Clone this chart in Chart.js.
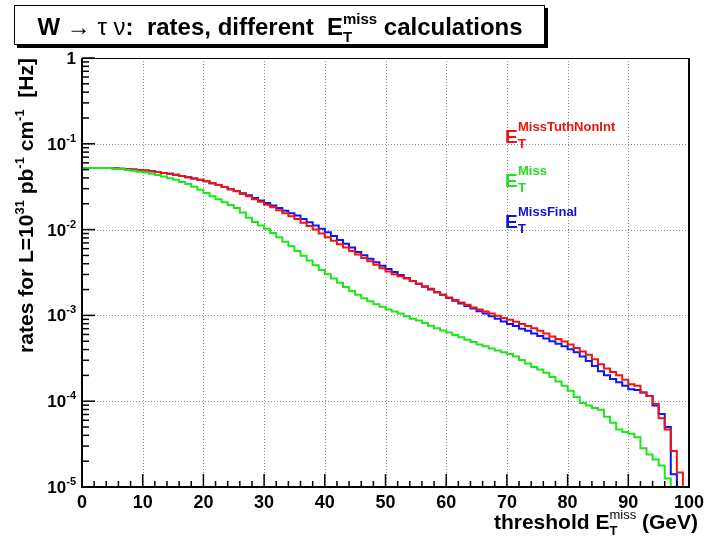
<!DOCTYPE html>
<html>
<head>
<meta charset="utf-8">
<script src="https://cdn.jsdelivr.net/npm/chart.js@4/dist/chart.umd.min.js"></script>
<style>
html, body { margin: 0; padding: 0; background: #ffffff; }
#wrap { position: relative; width: 704px; height: 538px; }
canvas { display: block; }
</style>
</head>
<body>
<div id="wrap"><canvas id="c" width="704" height="538"></canvas></div>
<script>
// ---------------- data ----------------
// lower edges of the 1 GeV threshold bins
const binEdges = [
  0,1,2,3,4,5,6,7,8,9,10,11,12,13,14,15,16,17,18,19,
  20,21,22,23,24,25,26,27,28,29,30,31,32,33,34,35,36,37,38,39,
  40,41,42,43,44,45,46,47,48,49,50,51,52,53,54,55,56,57,58,59,
  60,61,62,63,64,65,66,67,68,69,70,71,72,73,74,75,76,77,78,79,
  80,81,82,83,84,85,86,87,88,89,90,91,92,93,94,95,96,97,98,99
];
const seriesNames = ['MissTuthNonInt', 'Miss', 'MissFinal'];

// E_T^MissTuthNonInt (red)
const rateTruthNonInt = [
  0.0521,0.0521,0.0521,0.0521,0.0521,0.0519,0.0513,0.0507,0.0501,0.0495,
  0.0490,0.0479,0.0468,0.0457,0.0447,0.0437,0.0422,0.0407,0.0394,0.0380,
  0.0365,0.0347,0.0331,0.0313,0.0295,0.0279,0.0260,0.0245,0.0226,0.0211,
  0.0195,0.0182,0.0168,0.0155,0.0143,0.0133,0.0120,0.0110,0.0100,0.00902,
  0.00813,0.00741,0.00676,0.00617,0.00562,0.00513,0.00468,0.00427,0.00389,0.00355,
  0.00324,0.00302,0.00285,0.00269,0.00251,0.00234,0.00219,0.00204,0.00186,0.00174,
  0.00162,0.00151,0.00141,0.00133,0.00124,0.00117,0.00111,0.00105,0.000989,0.000933,
  0.000891,0.000841,0.000794,0.000750,0.000708,0.000661,0.000617,0.000569,0.000531,0.000495,
  0.000457,0.000417,0.000380,0.000347,0.000309,0.000269,0.000240,0.000219,0.000200,0.000178,
  0.000158,0.000151,0.000126,0.000115,0.0000933,0.0000631,0.0000468,0.0000263,0.0000148,0
];
// E_T^Miss (green)
const rateMiss = [
  0.0521,0.0521,0.0521,0.0521,0.0521,0.0513,0.0507,0.0495,0.0484,0.0473,
  0.0463,0.0447,0.0432,0.0417,0.0398,0.0380,0.0359,0.0339,0.0316,0.0292,
  0.0267,0.0245,0.0226,0.0209,0.0193,0.0178,0.0158,0.0137,0.0123,0.0112,
  0.0102,0.00912,0.00813,0.00724,0.00638,0.00562,0.00496,0.00437,0.00385,0.00339,
  0.00302,0.00269,0.00240,0.00214,0.00193,0.00174,0.00158,0.00146,0.00135,0.00126,
  0.00117,0.00111,0.00105,0.000977,0.000912,0.000871,0.000813,0.000759,0.000708,0.000668,
  0.000631,0.000589,0.000556,0.000519,0.000490,0.000457,0.000437,0.000412,0.000389,0.000372,
  0.000355,0.000331,0.000302,0.000275,0.000251,0.000234,0.000214,0.000191,0.000170,0.000151,
  0.000132,0.000112,0.0000955,0.0000891,0.0000832,0.0000794,0.0000661,0.0000562,0.0000468,0.0000437,
  0.0000417,0.0000380,0.0000282,0.0000240,0.0000209,0.0000178,0.0000126,0,0,0
];
// E_T^MissFinal (blue)
const rateFinal = [
  0.0521,0.0521,0.0521,0.0521,0.0521,0.0519,0.0513,0.0507,0.0501,0.0495,
  0.0490,0.0479,0.0468,0.0457,0.0447,0.0437,0.0422,0.0407,0.0394,0.0380,
  0.0365,0.0347,0.0331,0.0313,0.0295,0.0282,0.0266,0.0251,0.0234,0.0219,
  0.0204,0.0191,0.0178,0.0166,0.0155,0.0146,0.0133,0.0122,0.0112,0.0102,
  0.00933,0.00841,0.00759,0.00684,0.00617,0.00550,0.00501,0.00457,0.00417,0.00380,
  0.00347,0.00320,0.00295,0.00272,0.00251,0.00234,0.00216,0.00200,0.00186,0.00174,
  0.00160,0.00148,0.00138,0.00129,0.00120,0.00112,0.00105,0.000977,0.000912,0.000851,
  0.000794,0.000750,0.000700,0.000661,0.000617,0.000575,0.000537,0.000501,0.000468,0.000437,
  0.000403,0.000372,0.000331,0.000295,0.000257,0.000224,0.000200,0.000182,0.000166,0.000151,
  0.000138,0.000135,0.000126,0.000115,0.0000891,0.0000708,0.0000501,0.0000141,0,0
];

// axis ticks / labels
const xMajorTicks = [0,10,20,30,40,50,60,70,80,90,100];
const xTickLabels = ['0','10','20','30','40','50','60','70','80','90','100'];
const xMinorStep = 2;
const yDecadeTicks = [1e-5,1e-4,1e-3,1e-2,1e-1,1];
const yTickBase = ['10','10','10','10','10','1'];
const yTickExp  = ['-5','-4','-3','-2','-1',''];
const Y_MIN = 1e-5, Y_MAX = 1, X_MIN = 0, X_MAX = 100;

// ---------------- helpers ----------------
const FONT = '"Liberation Sans", Arial, Helvetica, sans-serif';
function f(size, bold) { return (bold ? 'bold ' : '') + size + 'px ' + FONT; }

// runs: {t, font, dy, noAdv}
function runsWidth(ctx, runs) {
  let w = 0;
  for (const r of runs) { ctx.font = r.font; r.w = ctx.measureText(r.t).width; if (!r.noAdv) w += r.w; }
  return w;
}
function drawRuns(ctx, x, y, runs, align, color) {
  const total = runsWidth(ctx, runs);
  let cx = x;
  if (align === 'right') cx = x - total;
  else if (align === 'center') cx = x - total / 2;
  ctx.textBaseline = 'alphabetic';
  ctx.textAlign = 'left';
  for (const r of runs) {
    ctx.font = r.font;
    ctx.fillStyle = r.color || color || '#000';
    ctx.fillText(r.t, cx, y + (r.dy || 0));
    if (!r.noAdv) cx += r.w;
  }
}

function histPoints(vals) {
  const pts = vals.map((v, i) => ({ x: binEdges[i], y: v > 0 ? v : Y_MIN }));
  pts.push({ x: X_MAX, y: pts[pts.length - 1].y });
  return pts;
}

// ---------------- decorations plugin ----------------
const rootStyle = {
  id: 'rootStyle',
  beforeDatasetsDraw(chart) {
    const { ctx, chartArea: a, scales: { x, y } } = chart;
    ctx.save();
    ctx.strokeStyle = '#8c8c8c';
    ctx.lineWidth = 1;
    ctx.setLineDash([1, 2]);
    for (const v of xMajorTicks) {
      if (v === X_MIN || v === X_MAX) continue;
      const px = Math.round(x.getPixelForValue(v)) + 0.5;
      ctx.beginPath(); ctx.moveTo(px, a.top); ctx.lineTo(px, a.bottom); ctx.stroke();
    }
    for (const v of yDecadeTicks) {
      if (v === Y_MIN || v === Y_MAX) continue;
      const py = Math.round(y.getPixelForValue(v)) + 0.5;
      ctx.beginPath(); ctx.moveTo(a.left, py); ctx.lineTo(a.right, py); ctx.stroke();
    }
    ctx.restore();
  },
  afterDatasetsDraw(chart) {
    const { ctx, chartArea: a, scales: { x, y } } = chart;
    ctx.save();
    ctx.setLineDash([]);
    ctx.strokeStyle = '#000';
    // frame
    ctx.lineWidth = 1;
    ctx.beginPath(); ctx.moveTo(a.left, a.top + 0.5); ctx.lineTo(a.right, a.top + 0.5); ctx.stroke();
    ctx.lineWidth = 2;
    ctx.beginPath();
    ctx.moveTo(a.left, a.top); ctx.lineTo(a.left, a.bottom); ctx.lineTo(a.right, a.bottom); ctx.lineTo(a.right, a.top);
    ctx.stroke();
    // y ticks
    ctx.lineWidth = 1.5;
    for (let d = 0; d < yDecadeTicks.length; d++) {
      const dec = yDecadeTicks[d];
      const py = y.getPixelForValue(dec);
      ctx.beginPath(); ctx.moveTo(a.left, py); ctx.lineTo(a.left + 13, py); ctx.stroke();
      if (d < yDecadeTicks.length - 1) {
        for (let k = 2; k <= 9; k++) {
          const pm = y.getPixelForValue(dec * k);
          ctx.beginPath(); ctx.moveTo(a.left, pm); ctx.lineTo(a.left + 7, pm); ctx.stroke();
        }
      }
    }
    // x ticks
    for (let v = X_MIN; v <= X_MAX; v += xMinorStep) {
      const px = x.getPixelForValue(v);
      const len = xMajorTicks.includes(v) ? 13 : 6;
      ctx.beginPath(); ctx.moveTo(px, a.bottom); ctx.lineTo(px, a.bottom - len); ctx.stroke();
    }
    // x tick labels
    ctx.fillStyle = '#000';
    xMajorTicks.forEach((v, i) => {
      drawRuns(ctx, x.getPixelForValue(v), a.bottom + 21, [{ t: xTickLabels[i], font: f(18, true) }], 'center');
    });
    // y tick labels
    yDecadeTicks.forEach((v, i) => {
      const py = y.getPixelForValue(v);
      const runs = [{ t: yTickBase[i], font: f(17, true) }];
      if (yTickExp[i]) runs.push({ t: yTickExp[i], font: f(11, true), dy: -8 });
      drawRuns(ctx, a.left - 6, py + 6, runs, 'right');
    });
    // x axis title
    drawRuns(ctx, 698, 529, [
      { t: 'threshold E', font: f(21, true) },
      { t: 'T', font: f(13, true), dy: 6, noAdv: true },
      { t: 'miss', font: f(13, false), dy: -10 },
      { t: ' (GeV)', font: f(21, true) }
    ], 'right');
    // y axis title (rotated)
    ctx.save();
    ctx.translate(33, a.top);
    ctx.rotate(-Math.PI / 2);
    drawRuns(ctx, 0, 0, [
      { t: 'rates for L=10', font: f(21, true) },
      { t: '31', font: f(13, true), dy: -9 },
      { t: ' pb', font: f(21, true) },
      { t: '-1', font: f(13, true), dy: -9 },
      { t: ' cm', font: f(21, true) },
      { t: '-1', font: f(13, true), dy: -9 },
      { t: '  [Hz]', font: f(21, true) }
    ], 'right');
    ctx.restore();

    // title box
    ctx.fillStyle = '#000';
    ctx.fillRect(17, 45, 531, 3);
    ctx.fillRect(545, 8, 3, 40);
    ctx.fillStyle = '#fff';
    ctx.fillRect(15, 6, 529, 38);
    ctx.strokeStyle = '#000';
    ctx.lineWidth = 1;
    ctx.strokeRect(14.5, 5.5, 530, 39);
    drawRuns(ctx, 280, 35, [
      { t: 'W ', font: f(24, true) },
      { t: '\u2192', font: f(24, false) },
      { t: ' \u03c4 \u03bd', font: f(24, false) },
      { t: ':  rates, different  E', font: f(24, true) },
      { t: 'T', font: f(15, true), dy: 7, noAdv: true },
      { t: 'miss', font: f(15, true), dy: -11 },
      { t: ' calculations', font: f(24, true) }
    ], 'center', '#000');

    // legend
    const legendColors = ['#ee1111', '#22dd22', '#1111dd'];
    const legendBase = [143, 187, 228];
    seriesNames.forEach((name, i) => {
      const yb = legendBase[i];
      const c = legendColors[i];
      ctx.font = f(19, true);
      ctx.fillStyle = c;
      ctx.textAlign = 'left';
      ctx.fillText('E', 505, yb);
      ctx.font = f(13, true);
      ctx.fillText('T', 518, yb + 5);
      ctx.fillText(name, 518, yb - 12);
    });
    ctx.restore();
  }
};

// ---------------- chart ----------------
const ds = (label, vals, color) => ({
  label,
  data: histPoints(vals),
  borderColor: color,
  backgroundColor: color,
  borderWidth: 2,
  pointRadius: 0,
  stepped: true,
  fill: false,
  clip: 3
});

new Chart(document.getElementById('c'), {
  type: 'line',
  data: {
    datasets: [
      ds(seriesNames[1], rateMiss, '#1ee61e'),
      ds(seriesNames[0], rateTruthNonInt, '#f01414'),
      ds(seriesNames[2], rateFinal, '#1414f0')
    ]
  },
  options: {
    responsive: false,
    animation: false,
    layout: { padding: { left: 82, top: 58, right: 15, bottom: 51 } },
    plugins: { legend: { display: false }, tooltip: { enabled: false }, title: { display: false } },
    scales: {
      x: { type: 'linear', min: X_MIN, max: X_MAX, display: false },
      y: { type: 'logarithmic', min: Y_MIN, max: Y_MAX, display: false }
    }
  },
  plugins: [rootStyle]
});
</script>
</body>
</html>
